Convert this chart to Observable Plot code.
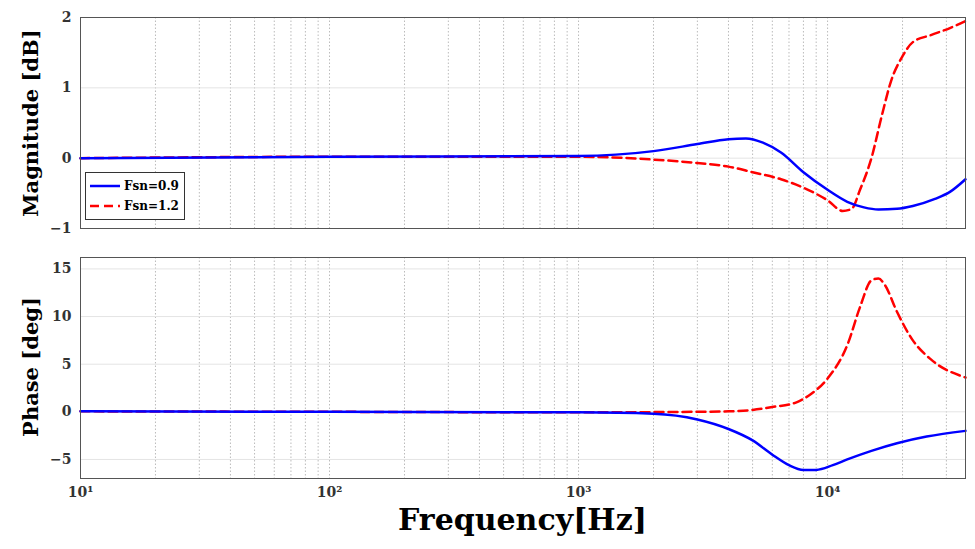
<!DOCTYPE html>
<html><head><meta charset="utf-8">
<script src="https://cdn.jsdelivr.net/npm/d3@7"></script>
<script src="https://cdn.jsdelivr.net/npm/@observablehq/plot@0.6"></script>
<style>
body{margin:0;background:#fff;font-family:"DejaVu Serif",serif;}
#wrap{position:relative;width:975px;height:549px;}
.pl{position:absolute;left:0;}
.yl{position:absolute;font-weight:bold;font-size:21px;transform:translate(-50%,-50%) rotate(-90deg);white-space:nowrap;}
#xl{position:absolute;left:0;width:1045px;text-align:center;top:502px;font-weight:bold;font-size:30px;}
.lg{display:flex;align-items:center;white-space:nowrap;gap:4px;height:20px;}
</style></head><body>
<div id="wrap">
<div class="yl" style="left:30px;top:123px">Magnitude [dB]</div>
<div class="yl" style="left:30px;top:367px">Phase [deg]</div>
<div id="xl">Frequency[Hz]</div>
</div>
<script>
const magFreqBlue = [10,100,1000,2000,3000,4000,4700,5500,6500,8000,10000,12000,14000,16000,19000,22000,27000,31000,35800];
const magBlue     = [0,0.02,0.03,0.1,0.2,0.27,0.28,0.22,0.08,-0.2,-0.45,-0.62,-0.7,-0.73,-0.72,-0.68,-0.58,-0.48,-0.3];
const magFreqRed  = [10,100,1000,2000,3000,4000,5000,6500,8000,10000,11500,12500,13500,15000,16500,18000,20000,22000,26000,31000,35800];
const magRed      = [0,0.02,0.02,-0.02,-0.07,-0.12,-0.2,-0.3,-0.42,-0.6,-0.75,-0.72,-0.45,0.0,0.6,1.1,1.45,1.65,1.75,1.85,1.95];
const phFreqBlue  = [10,100,1000,2000,3000,4000,5000,6000,7000,8000,9000,10500,12000,15000,19000,25000,35800];
const phBlue      = [0.05,0,-0.05,-0.2,-0.8,-1.8,-3,-4.5,-5.6,-6.1,-6.1,-5.6,-5,-4.1,-3.3,-2.6,-2];
const phFreqRed   = [10,100,1000,3000,4000,5000,6000,7500,8500,10000,12000,13500,15000,16000,17000,19000,22000,26000,35800];
const phRed       = [0.05,0,-0.05,0,0.05,0.2,0.5,1.0,1.8,3.5,7,11,13.8,14,13.3,10.5,7.5,5.5,3.6];
const xTicks = [10,100,1000,10000];
const xTickLabels = ["10¹","10²","10³","10⁴"];
const minor = [];
for (let d of [10,100,1000,10000]) for (let k=2;k<=9;k++) if (d*k<35800) minor.push(d*k);

const zip=(xs,ys)=>xs.map((x,i)=>({x,y:ys[i]}));
const W=975;
function panel(top,h,mt,mb,ydom,yt,blue,red,showX,legend){
  const marks=[
    Plot.ruleX(minor,{stroke:"#bbb",strokeDasharray:"1.5,2"}),
    Plot.ruleX(xTicks,{stroke:"#bbb",strokeDasharray:"1.5,2"}),
    Plot.ruleY(yt,{stroke:"#e4e4e4"}),
    Plot.line(zip(...red),{x:"x",y:"y",stroke:"#ff0000",strokeWidth:2.5,strokeDasharray:"9,5",curve:"monotone-x"}),
    Plot.line(zip(...blue),{x:"x",y:"y",stroke:"#0000ff",strokeWidth:2.5,curve:"monotone-x"}),
    Plot.frame({stroke:"#555"})
  ];
  const p=Plot.plot({width:W,height:h,marginLeft:80,marginRight:10,marginTop:mt,marginBottom:mb,
    style:{fontFamily:"DejaVu Serif",fontSize:"14px",fontWeight:"bold",color:"#333"},
    x:{type:"log",domain:[10,35800],ticks:showX?xTicks:[],tickFormat:d=>xTickLabels[xTicks.indexOf(d)],label:null,tickSize:0},
    y:{domain:ydom,ticks:yt,label:null,tickSize:0,tickFormat:d=>d<0?"−"+Math.abs(d):d},
    marks});
  p.classList.add("pl"); p.style.top=top+"px";
  document.getElementById("wrap").appendChild(p);
  if(legend){
    const l=document.createElement("div");
    l.style.cssText="position:absolute;left:85px;top:172px;width:100px;height:48px;border:1px solid #333;background:#fff;font-size:12px;font-weight:bold;padding:3px 0 0 4px;box-sizing:border-box;";
    l.innerHTML='<div class="lg"><svg width="30" height="8"><line x1="0" x2="30" y1="4" y2="4" stroke="#00f" stroke-width="2.5"/></svg>Fsn=0.9</div><div class="lg"><svg width="30" height="8"><line x1="0" x2="30" y1="4" y2="4" stroke="#f00" stroke-width="2.5" stroke-dasharray="9,5"/></svg>Fsn=1.2</div>';
    document.getElementById("wrap").appendChild(l);
  }
}
panel(0,245,17,17,[-1,2],[-1,0,1,2],[magFreqBlue,magBlue],[magFreqRed,magRed],false,true);
panel(245,265,12,32,[-7,16.2],[-5,0,5,10,15],[phFreqBlue,phBlue],[phFreqRed,phRed],true,false);
</script></body></html>
